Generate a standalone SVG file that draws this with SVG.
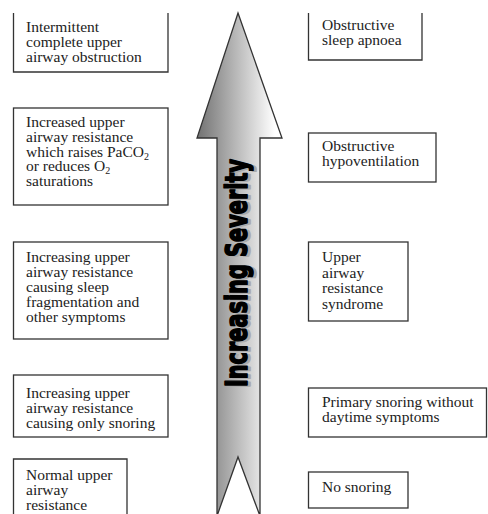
<svg xmlns="http://www.w3.org/2000/svg" width="488" height="514" viewBox="0 0 488 514">
<style>
.box{fill:#fff;stroke:#333;stroke-width:1.3}
.t{font-family:"Liberation Serif","Times New Roman",serif;font-size:15.5px;fill:#222}
.sev{font-family:"DejaVu Sans Condensed","DejaVu Sans",sans-serif;font-stretch:condensed;font-weight:bold;font-size:30px;stroke-width:1.6;stroke-linejoin:round}
</style>
<defs>
<linearGradient id="g" gradientUnits="userSpaceOnUse" x1="200" y1="0" x2="275" y2="0">
<stop offset="0" stop-color="#777"/>
<stop offset="1" stop-color="#fff"/>
</linearGradient>
</defs>
<rect width="488" height="514" fill="#fff"/>
<g id="arrow">
<path d="M238,13 L282,138 L260,138 L260,516 L238,457 L217,516 L217,138 L197,138 Z" fill="url(#g)" stroke="#333" stroke-width="1.3" stroke-linejoin="miter"/>
<text class="sev" fill="#aaa" stroke="#aaa" text-anchor="middle" textLength="228" lengthAdjust="spacingAndGlyphs" transform="translate(249.5,274) rotate(-90)">Increasing Severity</text>
<text class="sev" fill="#000" stroke="#000" text-anchor="middle" textLength="228" lengthAdjust="spacingAndGlyphs" transform="translate(247,273) rotate(-90)">Increasing Severity</text>
</g>
<g id="L1">
<path class="box" d="M13.5,13 V72 H168 V13"/>
<text class="t"><tspan x="26" y="32">Intermittent</tspan><tspan x="26" y="47">complete upper</tspan><tspan x="26" y="62">airway obstruction</tspan></text>
</g>
<g id="L2">
<rect class="box" x="13.5" y="108" width="154.5" height="97"/>
<text class="t"><tspan x="26" y="127">Increased upper</tspan><tspan x="26" y="142">airway resistance</tspan><tspan x="26" y="157">which raises PaCO<tspan font-size="10" dy="3">2</tspan></tspan><tspan x="26" y="171">or reduces O<tspan font-size="10" dy="3">2</tspan></tspan><tspan x="26" y="186">saturations</tspan></text>
</g>
<g id="L3">
<rect class="box" x="13.5" y="242" width="154.5" height="97"/>
<text class="t"><tspan x="26" y="262">Increasing upper</tspan><tspan x="26" y="277">airway resistance</tspan><tspan x="26" y="292">causing sleep</tspan><tspan x="26" y="307">fragmentation and</tspan><tspan x="26" y="322">other symptoms</tspan></text>
</g>
<g id="L4">
<rect class="box" x="13.5" y="375" width="154.5" height="62"/>
<text class="t"><tspan x="26" y="398">Increasing upper</tspan><tspan x="26" y="413">airway resistance</tspan><tspan x="26" y="428">causing only snoring</tspan></text>
</g>
<g id="L5">
<path class="box" d="M13.5,516 V459 H127 V516"/>
<text class="t"><tspan x="26" y="480">Normal upper</tspan><tspan x="26" y="495">airway</tspan><tspan x="26" y="510">resistance</tspan></text>
</g>
<g id="R1">
<path class="box" d="M308.5,13 V60 H422 V13"/>
<text class="t"><tspan x="322" y="30">Obstructive</tspan><tspan x="322" y="45">sleep apnoea</tspan></text>
</g>
<g id="R2">
<rect class="box" x="308.5" y="133" width="127.5" height="49"/>
<text class="t"><tspan x="322" y="151">Obstructive</tspan><tspan x="322" y="166">hypoventilation</tspan></text>
</g>
<g id="R3">
<rect class="box" x="308.5" y="242" width="99.5" height="79"/>
<text class="t"><tspan x="322" y="262">Upper</tspan><tspan x="322" y="277.5">airway</tspan><tspan x="322" y="293">resistance</tspan><tspan x="322" y="308.5">syndrome</tspan></text>
</g>
<g id="R4">
<rect class="box" x="308.5" y="388" width="178" height="49"/>
<text class="t"><tspan x="322" y="407">Primary snoring without</tspan><tspan x="322" y="422">daytime symptoms</tspan></text>
</g>
<g id="R5">
<rect class="box" x="308.5" y="472" width="99.5" height="36"/>
<text class="t"><tspan x="322" y="492">No snoring</tspan></text>
</g>
<g id="connectors"/>
</svg>
